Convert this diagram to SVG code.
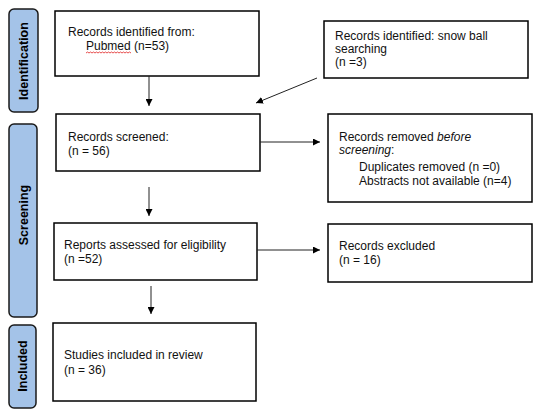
<svg xmlns="http://www.w3.org/2000/svg" width="541" height="418" viewBox="0 0 541 418">
<style>
.box{fill:#fff;stroke:#000;stroke-width:1.5}
.side{fill:#a4c3e8;stroke:#1a1a1a;stroke-width:1.5}
.t{font-family:"Liberation Sans",Arial,sans-serif;font-size:12px;fill:#111}
.s{font-family:"Liberation Sans",Arial,sans-serif;font-size:12.5px;font-weight:bold;fill:#000}
.c{stroke:#222;stroke-width:1;fill:none;marker-end:url(#ah)}
</style>
<defs>
<marker id="ah" viewBox="0 0 10 10" refX="10" refY="5" markerWidth="7" markerHeight="7" markerUnits="userSpaceOnUse" orient="auto">
<path d="M0,0 L10,5 L0,10 z" fill="#000"/>
</marker>
</defs>
<rect width="541" height="418" fill="#fff"/>
<g id="phase-identification">
<rect class="side" x="9" y="9" width="29" height="103" rx="5"/>
<text class="s" transform="translate(28,61) rotate(-90)" text-anchor="middle">Identification</text>
</g>
<g id="phase-screening">
<rect class="side" x="9" y="124" width="28" height="193" rx="5"/>
<text class="s" transform="translate(27.5,215) rotate(-90)" text-anchor="middle">Screening</text>
</g>
<g id="phase-included">
<rect class="side" x="9" y="325" width="27" height="83" rx="5"/>
<text class="s" transform="translate(27,366) rotate(-90)" text-anchor="middle">Included</text>
</g>
<g id="pubmed">
<rect class="box" x="55" y="11" width="204" height="65"/>
<text class="t" x="68" y="36">Records identified from:</text>
<text class="t" x="86" y="50">Pubmed (n=53)</text>
<path d="M86,53 l1.5,-1 l1.5,1 l1.5,-1 l1.5,1 l1.5,-1 l1.5,1 l1.5,-1 l1.5,1 l1.5,-1 l1.5,1 l1.5,-1 l1.5,1 l1.5,-1 l1.5,1 l1.5,-1 l1.5,1 l1.5,-1 l1.5,1 l1.5,-1 l1.5,1 l1.5,-1 l1.5,1 l1.5,-1 l1.5,1 l1.5,-1 l1.5,1 l1.5,-1 l1.5,1 l1.5,-1 l1.5,1" fill="none" stroke="#e02020" stroke-width="0.8"/>
</g>
<g id="snowball">
<rect class="box" x="324" y="21" width="204" height="57"/>
<text class="t" x="335" y="40">Records identified: snow ball</text>
<text class="t" x="335" y="53">searching</text>
<text class="t" x="335" y="66">(n =3)</text>
</g>
<g id="screened">
<rect class="box" x="56" y="114" width="204" height="57"/>
<text class="t" x="68" y="141">Records screened:</text>
<text class="t" x="68" y="155">(n = 56)</text>
</g>
<g id="removed">
<rect class="box" x="328" y="114" width="204" height="88"/>
<text class="t" x="339" y="141">Records removed <tspan font-style="italic">before</tspan></text>
<text class="t" x="339" y="154"><tspan font-style="italic">screening</tspan>:</text>
<text class="t" x="359" y="171">Duplicates removed (n =0)</text>
<text class="t" x="359" y="185">Abstracts not available (n=4)</text>
</g>
<g id="reports">
<rect class="box" x="54" y="223" width="203" height="57"/>
<text class="t" x="64" y="249">Reports assessed for eligibility</text>
<text class="t" x="64" y="263">(n =52)</text>
</g>
<g id="excluded">
<rect class="box" x="328" y="224" width="204" height="58"/>
<text class="t" x="339" y="250">Records excluded</text>
<text class="t" x="339" y="264">(n = 16)</text>
</g>
<g id="studies">
<rect class="box" x="53" y="323" width="203" height="78"/>
<text class="t" x="64" y="359">Studies included in review</text>
<text class="t" x="64" y="374">(n = 36)</text>
</g>
<g id="connectors">
<line class="c" x1="149" y1="76" x2="149" y2="106"/>
<line class="c" x1="317" y1="78" x2="256" y2="103"/>
<line class="c" x1="260" y1="142" x2="320" y2="142"/>
<line class="c" x1="149" y1="187" x2="149" y2="216"/>
<line class="c" x1="257" y1="250" x2="320" y2="250"/>
<line class="c" x1="151" y1="286" x2="151" y2="314"/>
</g>
</svg>
